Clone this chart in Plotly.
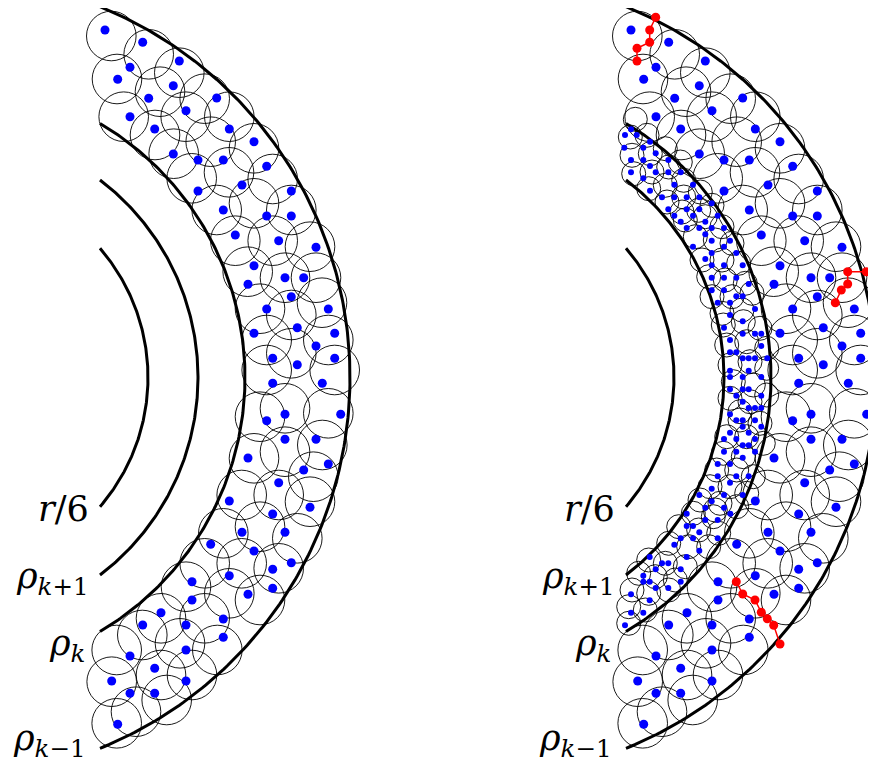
import numpy as np
import plotly.graph_objects as go

# ---------------- data (pixel coordinates, left panel) -------------
PANEL_OFFSET = 526          # right panel is a shifted copy
ARC_CENTER = (-50, 377.5)
ARC_END_X = 100
ARC_RADII = {"r6": 198, "rk1": 248, "rk": 295, "rkm1": 400}
LABELS = ["<i>r</i>/6", "<i>ρ</i><sub><i>k</i>+1</sub>", "<i>ρ</i><sub><i>k</i></sub>", "<i>ρ</i><sub><i>k</i>−1</sub>"]
LABEL_Y = [509, 578, 645, 740]
LABEL_X = [91, 91, 87, 88]

big_dots_x = [105, 142.7, 130, 117.7, 179.3, 173.3, 148.7, 186, 216.7, 130, 154.7, 229.3, 254, 173.3,
              198, 223.3, 266.7, 242, 198, 291.3, 223.3, 266.7, 291.3, 235.3, 278.7, 316, 254, 285,
              303.7, 248, 291.3, 266.7, 328.3, 297.3, 254, 334.7, 316, 272.7, 297.3, 334.7, 272.7,
              322.3, 285, 266.7, 340.7, 285, 316, 248, 303.7, 328.3, 278.7, 229.3, 310, 272.7, 242,
              285, 210.7, 254, 291.3, 272.7, 192, 229.3, 272.7, 248, 192, 161, 223.3, 142.7, 186,
              223.3, 130, 186, 154.7, 111.7, 186, 130, 154.7, 117.7]
big_dots_y = [30, 42.3, 67.3, 79.3, 61, 85.7, 98.3, 110.7, 98, 116.7, 129, 129, 141.7, 154, 160,
              160, 166.3, 185, 191, 191, 210, 216, 216, 235, 240.7, 247.3, 265.7, 277.7, 277.7,
              284.3, 296.7, 309, 309, 327.7, 333.3, 333.3, 346, 358.3, 364.7, 358.3, 383.3, 383.3,
              414.3, 420.7, 414.3, 439.3, 439.3, 458, 470, 464, 482.7, 501, 507.3, 514, 532.3,
              532.3, 544.3, 551, 562.7, 569.3, 581.7, 575.7, 588.3, 594.3, 600, 612.7, 619, 625,
              625, 637.3, 656, 650, 668.3, 681, 681, 693.3, 693.3, 724.3]

big_circ_x = [111.3, 148.7, 179.3, 117, 160, 204.7, 123.7, 185.7, 229.3, 155, 210.7, 254, 173.7,
              191.7, 229, 272.7, 216.7, 254, 291.3, 235.3, 272.7, 310, 247.7, 285, 316, 260, 291.3,
              322, 266.7, 291.3, 328.3, 266.7, 334.7, 285, 260, 328.3, 254, 285, 322.3, 313.3,
              241.7, 278.7, 310, 223.3, 260, 297.3, 204.7, 241.7, 278.7, 186, 229.3, 260, 161,
              204.7, 142.3, 180, 217.3, 116.7, 161, 192, 111.7, 136, 166.7, 116.7]
big_circ_y = [36, 54.3, 72.7, 79, 91.7, 98.7, 116.7, 116.7, 116.7, 135, 141.7, 148.3, 153.7, 178.3,
              172.3, 179, 210, 203.3, 210, 240.7, 240.7, 246.7, 271.7, 277.7, 277.7, 308.7, 315,
              302.7, 340, 353.3, 340, 370, 370, 408.3, 416.7, 413.3, 458.3, 451.7, 445, 476.7, 495,
              495, 501.7, 533.3, 526.7, 538.3, 563.3, 563.3, 568.3, 586.7, 593.3, 600, 618.3,
              618.3, 635, 643.3, 650, 650, 675, 675, 681.7, 711.7, 700, 723.3]
BIG_R = 24.8

# right panel, inner annulus (absolute pixel coordinates)
small_dots_x = [631, 625, 636.7, 650, 624.3, 643.3, 655.7, 631, 643.3, 668.3, 650, 631, 655.7, 668.3,
                680.7, 643.3, 674.3, 693, 650, 662, 674.3, 686.7, 699.3, 711.7, 668.3, 686.7, 699.3,
                674.3, 693, 717.7, 680.7, 705.3, 686.7, 699.3, 711.7, 724, 705.3, 711.7, 730, 693,
                724, 711.7, 736.3, 705.3, 711.7, 724, 742.7, 711.7, 724, 736.3, 748.7, 711.7, 724,
                736.3, 742.7,
                717.7, 730, 730, 755, 742.7, 724, 742.7, 755, 761.3, 730, 761.3, 730, 736.3, 742.7,
                748.7, 755, 767.3, 730, 748.7, 730, 742.7, 761.3, 730, 736.3, 742.7, 748.7, 761.3,
                742.7, 748.7, 755, 761.3, 730, 736.3, 742.7, 755, 742.7, 761.3, 730, 748.7, 724,
                736.3, 755, 742.7, 748.7, 724, 736.3, 755, 742.7, 717.7, 730, 717.7, 736.3, 748.7,
                730, 711.7, 699.3, 724, 742.7,
                711.7, 705.3, 724, 686.7, 730.3, 705.3, 717.7, 686.7, 693, 699.3, 680.7, 693, 717.7,
                674.3, 699.3, 686.7, 649.7, 662, 668.3, 655.7, 680.7, 643.3, 643.3, 649.7, 680.7,
                655.7, 668.3, 631, 649.7, 631, 643.3, 625]
small_dots_y = [129.3, 135, 135, 141.7, 147.7, 147.7, 153.3, 160, 160, 160, 166, 172.3, 172.3, 172.3,
                172.3, 178.3, 184.7, 184.7, 190.7, 197.3, 197.3, 197.3, 197.3, 203.3, 209.3, 209.3,
                209.3, 215.7, 215.7, 215.7, 221.7, 221.7, 228, 228, 228, 228, 234.3, 240.7, 240.7,
                246.7, 246.7, 253, 253, 259, 265.3, 265.3, 265.3, 277.7, 277.7, 277.7, 284, 290.3,
                290.3, 296.3, 296.3,
                302.7, 302.7, 315, 309, 321.3, 327.7, 333.7, 333.7, 333.7, 340, 346, 352.3, 352.3,
                358.3, 358.3, 358.3, 358.3, 370.7, 370.7, 377, 377, 377, 389.3, 395.7, 389.3, 389.3,
                395.7, 401.7, 408, 408, 408, 414.3, 420.3, 420.3, 420.3, 426.7, 426.7, 432.7, 432.7,
                439, 439, 439, 445.3, 445.3, 451.7, 451.7, 451.7, 457.7, 464, 464, 476.3, 476.3,
                476.3, 482.7, 488.7, 495, 495, 495,
                501.3, 507.7, 507.7, 513.7, 513.7, 520, 520, 526, 526, 532.3, 538.3, 538.3, 538.3,
                544.7, 550.7, 557, 557, 563.3, 563.3, 569.3, 569.3, 575.7, 581.7, 581.7, 581.7, 588,
                588, 594.3, 600.3, 612.7, 612.7, 625.3]

small_circ_x = [635.3, 630.3, 647, 632, 650.3, 665.3, 633.7, 652, 668.7, 680.3, 648.7, 665.3, 683.7,
                667, 683.7, 700.3, 682, 698.7, 712,
                685.3, 705.3, 722, 695.3, 715.3, 732, 702, 722, 738.7, 708.7, 725.3, 745.3, 712, 732,
                752, 722, 742,
                723.3, 743.3, 760, 726.7, 746.7, 766.7, 730, 750, 766.7, 733.3, 753.3, 730, 750,
                766.7, 740,
                740, 760, 726.7, 746.7, 763.3, 723.3, 743.3, 716.7, 736.7, 753.3, 710, 730, 746.7,
                700, 720, 736.7, 693.3, 713.3,
                715.3, 678.7, 698.7, 718.7, 668.7, 688.7, 708.7, 648.7, 665.3, 685.3, 638.7, 655.3,
                675.3, 632, 648.7, 668.7, 628.7, 645.3, 628.7]
small_circ_y = [119.3, 137, 135.3, 155.3, 153.7, 148.7, 173.7, 172, 167, 162, 188.7, 185.3, 180.3,
                202, 197, 192, 212, 210.3, 205.3,
                220, 216.7, 226.7, 236.7, 240, 243.3, 260, 260, 263.3, 276.7, 280, 283.3, 296.7,
                296.7, 293.3, 313.3, 310,
                325, 321.7, 328.3, 345, 341.7, 348.3, 365, 361.7, 368.3, 381.7, 385, 398.3, 401.7,
                395, 411.7,
                420, 423.3, 436.7, 436.7, 443.3, 453.3, 456.7, 470, 470, 476.7, 486.7, 486.7, 493.3,
                500, 503.3, 506.7, 513.3, 516.7,
                510, 526.7, 530, 533.3, 543.3, 546.7, 546.7, 560, 563.3, 566.7, 573.3, 576.7, 580,
                590, 593.3, 590, 606.7, 610, 623.3]
SMALL_R = 12

# red paths (absolute pixel coordinates, right panel)
red_paths = [
    ([655.7, 649.7, 649.7, 637, 637], [17.3, 30, 42.3, 48.3, 61]),
    ([866.3, 847.7, 847.7, 841.3, 835.3], [271.7, 271.7, 284, 290, 302.7]),
    ([736.3, 742.7, 755, 761.3, 767.3, 773.7, 780], [581.7, 594, 600, 612.3, 618.7, 625.3, 644]),
]

# ---------------- figure ----------------
W, H = 876, 764
PAGE_MARGIN = 8   # the page body margin shifts the plot; compensate through the axis ranges
fig = go.Figure()
shapes = []

def circle_shape(x, y, r):
    return dict(type="circle", xref="x", yref="y", x0=x - r, x1=x + r, y0=y - r, y1=y + r,
                line=dict(color="black", width=0.9), fillcolor="rgba(0,0,0,0)", layer="below")

for off in (0, PANEL_OFFSET):
    for x, y in zip(big_circ_x, big_circ_y):
        shapes.append(circle_shape(x + off, y, BIG_R))
for x, y in zip(small_circ_x, small_circ_y):
    shapes.append(circle_shape(x, y, SMALL_R))

FONT = "DejaVu Serif"
cx, cy = ARC_CENTER
for off in (0, PANEL_OFFSET):
    for key, R in ARC_RADII.items():
        tmax = np.arccos((ARC_END_X - cx) / R)
        t = np.linspace(-tmax, tmax, 200)
        fig.add_trace(go.Scatter(x=cx + off + R * np.cos(t), y=cy + R * np.sin(t), mode="lines",
                                 line=dict(color="black", width=3), hoverinfo="skip",
                                 showlegend=False))
    fig.add_trace(go.Scatter(x=[v + off for v in big_dots_x], y=big_dots_y, mode="markers",
                             marker=dict(color="#0000ff", size=9, line=dict(width=0)),
                             showlegend=False))
    for lab, lx, ly in zip(LABELS, LABEL_X, LABEL_Y):
        fig.add_annotation(x=lx + off, y=ly, text=lab, showarrow=False, xanchor="right",
                           yanchor="middle", font=dict(family=FONT, size=35, color="black"))

fig.add_trace(go.Scatter(x=small_dots_x, y=small_dots_y, mode="markers",
                         marker=dict(color="#0000ff", size=6, line=dict(width=0)),
                         showlegend=False))
for px, py in red_paths:
    fig.add_trace(go.Scatter(x=px, y=py, mode="lines+markers",
                             line=dict(color="#ff0000", width=1.5),
                             marker=dict(color="#ff0000", size=9), showlegend=False))

fig.update_layout(width=W, height=H, margin=dict(l=0, r=0, t=0, b=0),
                  paper_bgcolor="white", plot_bgcolor="white", shapes=shapes,
                  xaxis=dict(range=[PAGE_MARGIN, W + PAGE_MARGIN], visible=False, fixedrange=True),
                  yaxis=dict(range=[H + PAGE_MARGIN, PAGE_MARGIN], visible=False,
                             fixedrange=True))
fig.write_html("out.html")
